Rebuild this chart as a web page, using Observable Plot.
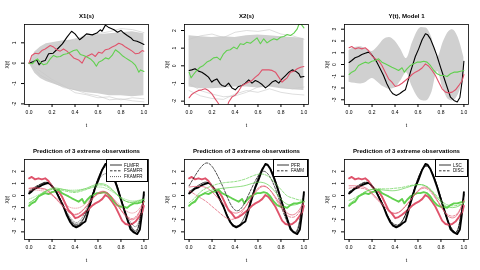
<!DOCTYPE html>
<html><head><meta charset="utf-8">
<script src="https://cdn.jsdelivr.net/npm/d3@7"></script>
<script src="https://cdn.jsdelivr.net/npm/@observablehq/plot@0.6"></script>
<style>
body{margin:0;background:#fff;}
#wrap{position:relative;width:480px;height:270px;font-family:"Liberation Sans",Arial,sans-serif;overflow:hidden;}
.panel{position:absolute;width:160px;height:135px;will-change:transform;}
.panel svg{overflow:visible;}
.leg{position:absolute;will-change:transform;}
svg text{-webkit-font-smoothing:antialiased;}
</style></head><body><div id="wrap"></div>
<script>
// ---------- colours (R 4 palette) ----------
const BLACK = "#000000", RED = "#DF536B", GREEN = "#61D04F", GREY = "#d0d0d0";

// ---------- panel 1: X1(s) ----------
const x1BandT  = [0,0.05,0.1,0.15,0.2,0.3,0.4,0.5,0.6,0.7,0.8,0.9,1];
const x1BandHi = [0,0.55,0.8,0.95,1.0,1.1,1.15,1.3,1.4,1.45,1.5,1.55,1.45];
const x1BandLo = [0,-0.5,-0.75,-0.9,-1.0,-1.2,-1.35,-1.45,-1.5,-1.6,-1.6,-1.65,-1.6];
const greyT = [0,0.1,0.2,0.3,0.4,0.5,0.6,0.7,0.8,0.9,1];
const x1Grey1 = [0,-0.6,-0.9,-1.2,-1.3,-1.5,-1.6,-1.8,-1.75,-1.85,-1.9];
const x1Grey2 = [0,0.5,0.8,1.0,1.2,1.35,1.45,1.55,1.7,1.65,1.5];
const x1Grey3 = [0,-0.4,-0.8,-1.1,-1.45,-1.55,-1.7,-1.65,-1.8,-1.7,-1.75];
const x1BlackT = [0,0.038,0.067,0.087,0.11,0.14,0.17,0.21,0.24,0.29,0.33,0.37,0.4,0.44,0.475,0.5,0.55,0.59,0.62,0.635,0.665,0.69,0.74,0.77,0.8,0.825,0.855,0.885,0.91,0.94,0.97,1];
const x1BlackY = [0,0.08,0.16,-0.08,0.08,0.13,0.46,0.49,0.66,0.95,1.28,1.57,1.44,1.15,1.31,1.44,1.39,1.48,1.64,1.57,1.87,1.77,1.64,1.52,1.61,1.48,1.36,1.25,1.11,1.08,1.0,0.92];
const x1RedT = [0,0.023,0.052,0.082,0.111,0.14,0.184,0.213,0.242,0.271,0.3,0.329,0.359,0.388,0.431,0.461,0.49,0.519,0.548,0.577,0.606,0.636,0.665,0.694,0.723,0.752,0.781,0.81,0.84,0.869,0.898,0.927,0.956,0.985,1];
const x1RedY = [0,0.38,0.49,0.46,0.62,0.70,0.87,0.79,0.66,0.59,0.70,0.59,0.43,0.26,0.16,0,0.30,0.38,0.46,0.33,0.54,0.49,0.66,0.70,0.79,0.87,0.98,0.92,0.79,0.70,0.59,0.46,0.49,0.62,0.59];
const x1GreenT = [0,0.029,0.052,0.073,0.096,0.125,0.155,0.184,0.213,0.242,0.271,0.3,0.329,0.359,0.388,0.417,0.446,0.475,0.504,0.534,0.563,0.586,0.606,0.636,0.665,0.694,0.723,0.752,0.781,0.81,0.84,0.869,0.898,0.927,0.942,0.956,0.971,1];
const x1GreenY = [0,-0.03,0.13,0.21,0.05,-0.08,-0.03,0.21,0.38,0.30,0.33,0.43,0.46,0.54,0.62,0.66,0.43,0.38,0.30,0.21,0.05,-0.15,0.05,0.13,0.26,0.21,0.38,0.66,0.54,0.38,0.26,0.16,0.05,-0.11,-0.28,-0.44,-0.33,-0.41];

// ---------- panel 2: X2(s) ----------
const x2BandHi = [1.7,1.65,1.6,1.65,1.6,1.7,1.75,1.7,1.65,1.6,1.55];
const x2BandLo = [-1.2,-1.3,-1.3,-1.25,-1.2,-1.2,-1.25,-1.2,-1.3,-1.35,-1.4];
const x2Grey1 = [-1.4,-1.7,-1.85,-1.9,-1.6,-1.4,-1.5,-1.3,-1.5,-1.6,-1.65];
const x2Grey2 = [1.5,1.7,1.8,1.6,1.9,2.0,1.95,2.05,1.8,1.7,1.5];
const x2Grey3 = [-1.0,-1.4,-1.6,-1.75,-1.7,-1.5,-1.2,-1.1,-1.2,-1.3,-1.2];
const x2GreenT = [0,0.017,0.038,0.067,0.096,0.125,0.155,0.184,0.213,0.242,0.271,0.3,0.329,0.359,0.388,0.417,0.446,0.475,0.504,0.534,0.563,0.592,0.621,0.65,0.679,0.708,0.738,0.767,0.796,0.825,0.854,0.883,0.913,0.942,0.956,0.971,1];
const x2GreenY = [-0.36,-0.68,-0.49,-0.26,-0.08,0.02,0.21,0.30,0.45,0.49,0.34,0.68,0.87,0.91,1.06,0.96,1.25,1.21,1.34,1.28,1.43,1.58,1.25,1.53,1.30,1.43,1.53,1.47,1.62,1.66,1.77,1.72,1.85,2.09,2.34,2.4,2.15];
const x2BlackT = [0,0.023,0.052,0.082,0.111,0.14,0.169,0.184,0.198,0.213,0.242,0.271,0.286,0.315,0.344,0.373,0.402,0.431,0.461,0.49,0.519,0.548,0.577,0.606,0.636,0.665,0.694,0.723,0.752,0.781,0.81,0.84,0.869,0.898,0.927,0.956,0.971,1];
const x2BlackY = [-0.26,-0.23,-0.17,-0.30,-0.36,-0.49,-0.64,-0.79,-0.92,-0.83,-0.74,-1.02,-1.11,-1.17,-0.98,-1.25,-1.36,-1.17,-1.11,-0.98,-0.79,-0.98,-0.83,-0.92,-1.06,-1.25,-1.11,-0.92,-0.83,-0.98,-0.74,-0.55,-0.36,-0.23,-0.30,-0.45,-0.64,-0.6];
const x2RedT = [0,0.023,0.052,0.082,0.111,0.14,0.169,0.198,0.227,0.248,0.271,0.3,0.329,0.344,0.373,0.402,0.431,0.461,0.49,0.519,0.548,0.577,0.606,0.636,0.665,0.694,0.723,0.752,0.781,0.81,0.825,0.854,0.883,0.913,0.942,0.971,1];
const x2RedY = [-1.81,-1.62,-1.49,-1.40,-1.36,-1.30,-1.40,-1.58,-1.87,-2.06,-2.3,-2.6,-2.45,-2.06,-1.77,-1.66,-1.43,-1.11,-1.02,-0.92,-0.83,-0.64,-0.49,-0.23,-0.23,-0.23,-0.26,-0.36,-0.64,-0.92,-0.83,-0.68,-0.36,-0.30,-0.17,-0.08,-0.04];

// ---------- panel 3: Y(t), Model 1 ----------
const yBandT  = [0,0.05,0.1,0.15,0.2,0.25,0.3,0.35,0.4,0.45,0.5,0.55,0.6,0.63,0.67,0.72,0.77,0.82,0.87,0.9,0.95,1];
const yBandHi = [1.2,1.45,1.5,1.3,1.1,1.5,2.1,2.3,2.0,1.3,0.5,1.8,2.9,3.15,3.1,2.3,0.6,1.9,2.8,2.95,2.3,0.6];
const yBandLo = [-1.5,-1.6,-1.65,-1.5,-1.2,-1.5,-1.9,-2.1,-2.0,-1.4,-0.7,-1.9,-2.8,-3.05,-3.1,-2.4,-0.6,-2.1,-3.0,-3.1,-2.6,-0.8];
const yBlackT = [0,0.023,0.052,0.082,0.111,0.14,0.169,0.184,0.213,0.242,0.271,0.3,0.329,0.359,0.382,0.411,0.44,0.469,0.49,0.51,0.534,0.557,0.577,0.606,0.636,0.665,0.685,0.708,0.738,0.767,0.796,0.825,0.854,0.883,0.913,0.942,0.965,0.985,1];
const yBlackY = [0.17,0.34,0.57,0.68,0.85,0.96,1.05,0.96,0.62,0.2,-0.37,-0.93,-1.64,-2.21,-2.49,-2.63,-2.49,-2.27,-2.15,-1.5,-0.65,0.06,0.68,1.33,2.1,2.61,2.52,2.18,1.47,0.68,-0.23,-1.08,-1.93,-2.78,-3.05,-3.18,-2.8,-1.36,0.28];
const yRedT = [0,0.023,0.052,0.082,0.111,0.14,0.169,0.198,0.227,0.257,0.286,0.315,0.344,0.373,0.402,0.431,0.461,0.49,0.519,0.548,0.577,0.606,0.636,0.665,0.694,0.723,0.752,0.781,0.81,0.84,0.869,0.898,0.927,0.956,0.985,1];
const yRedY = [1.42,1.53,1.33,1.42,1.33,1.42,1.19,0.76,0.48,0.34,-0.08,-0.65,-1.22,-1.5,-1.87,-1.78,-1.59,-1.36,-1.13,-0.85,-0.65,-0.51,-0.3,0.05,-0.15,-0.51,-0.93,-1.5,-2.07,-2.35,-2.41,-2.35,-2.15,-1.78,-1.36,-0.85];
const yGreenT = [0,0.023,0.052,0.082,0.111,0.14,0.169,0.198,0.227,0.257,0.286,0.315,0.344,0.373,0.402,0.431,0.461,0.481,0.504,0.534,0.563,0.592,0.621,0.65,0.679,0.708,0.738,0.767,0.796,0.825,0.854,0.883,0.913,0.942,0.971,1];
const yGreenY = [-0.85,-0.65,-0.51,-0.08,0.06,0.2,0.11,0.28,0.34,0.48,0.2,0.06,-0.08,-0.23,-0.37,-0.51,-0.28,-0.65,-0.37,-0.08,0.06,0.2,0.2,0.28,0.2,-0.08,-0.51,-0.79,-0.93,-0.93,-1.02,-0.79,-0.65,-0.65,-0.57,-0.51];

// ---------- predictions (bottom row) ----------
const tP = [0,0.05,0.1,0.15,0.2,0.25,0.3,0.35,0.4,0.45,0.5,0.55,0.6,0.65,0.7,0.75,0.8,0.85,0.9,0.95,1];
// FLMFR / FSAMFR / FKAMFR
const flmBlack = [0.25,0.6,0.9,1.05,0.75,0.1,-0.9,-1.9,-2.45,-2.3,-1.4,0.0,1.4,2.35,2.3,1.3,-0.2,-1.8,-2.8,-2.7,0.1];
const fsaBlack = [0.35,0.7,0.95,1.1,0.8,0.1,-0.9,-1.85,-2.35,-2.2,-1.35,0.0,1.35,2.25,2.2,1.2,-0.25,-1.8,-2.7,-2.6,0.1];
const fkaBlack = [0.3,0.65,0.9,1.0,0.7,0.0,-0.9,-1.7,-2.2,-2.0,-1.1,0.1,1.2,1.75,1.7,1.0,-0.3,-1.6,-2.4,-2.3,0.0];
const flmRed = [0.6,0.65,0.6,0.5,0.1,-0.4,-0.9,-1.4,-1.6,-1.4,-0.9,-0.3,0.2,0.35,0.1,-0.5,-1.2,-1.8,-2.0,-1.6,-0.5];
const fsaRed = [0.55,0.6,0.55,0.45,0.05,-0.45,-0.95,-1.4,-1.55,-1.35,-0.85,-0.3,0.15,0.3,0.05,-0.55,-1.2,-1.7,-1.9,-1.5,-0.5];
const fkaRed = [0.4,0.45,0.4,0.3,0.0,-0.3,-0.65,-0.95,-1.05,-0.95,-0.6,-0.2,0.1,0.2,0.0,-0.4,-0.9,-1.3,-1.45,-1.2,-0.5];
const flmGreen = [-0.65,-0.3,0.1,0.4,0.6,0.6,0.5,0.4,0.35,0.45,0.6,0.8,0.95,0.95,0.7,0.25,-0.2,-0.5,-0.55,-0.45,-0.3];
const fsaGreen = [-0.6,-0.3,0.05,0.35,0.5,0.5,0.4,0.3,0.25,0.35,0.5,0.7,0.85,0.85,0.6,0.2,-0.25,-0.5,-0.6,-0.5,-0.35];
const fkaGreen = [-0.3,-0.1,0.15,0.35,0.5,0.55,0.5,0.45,0.45,0.5,0.55,0.65,0.7,0.65,0.45,0.15,-0.15,-0.35,-0.45,-0.4,-0.3];
// PFR / FAMM
const pfrBlack = [0.3,0.65,0.95,1.1,0.8,0.1,-0.95,-1.95,-2.5,-2.3,-1.4,0.0,1.45,2.4,2.35,1.3,-0.2,-1.8,-2.85,-2.75,0.1];
const fammBlack = [0.8,1.6,2.3,2.68,2.4,1.6,0.6,-0.5,-1.2,-1.1,-0.3,0.7,1.6,2.0,1.6,0.6,-0.8,-2.1,-2.9,-2.6,0.3];
const pfrRed = [0.7,0.75,0.75,0.65,0.3,-0.2,-0.7,-1.2,-1.45,-1.3,-0.8,-0.1,0.5,0.75,0.5,-0.1,-0.8,-1.4,-1.6,-1.3,-0.5];
const fammRed = [0.4,0.1,-0.2,-0.5,-0.9,-1.3,-1.7,-1.95,-1.9,-1.5,-0.8,0.0,0.6,0.8,0.5,-0.2,-1.0,-1.6,-1.8,-1.5,-0.6];
const pfrGreen = [-0.8,-0.4,0.0,0.3,0.45,0.55,0.6,0.65,0.7,0.75,0.85,1.0,1.1,1.05,0.8,0.3,-0.3,-0.7,-0.8,-0.7,-0.5];
const fammGreen = [-0.6,-0.2,0.3,0.6,0.8,0.95,1.05,1.1,1.15,1.25,1.4,1.6,1.75,1.75,1.5,1.0,0.5,0.0,-0.2,-0.35,-0.4];
// LSC / DISC
const lscBlack = [0.25,0.6,0.9,1.05,0.75,0.1,-0.9,-1.95,-2.5,-2.3,-1.4,0.0,1.4,2.35,2.3,1.3,-0.2,-1.8,-2.85,-2.75,0.1];
const discBlack = [0.3,0.65,0.95,1.1,0.8,0.1,-0.9,-1.9,-2.4,-2.25,-1.35,0.05,1.4,2.3,2.25,1.25,-0.25,-1.85,-2.8,-2.7,0.1];
const lscRed = [0.8,0.8,0.75,0.6,0.2,-0.3,-0.8,-1.3,-1.5,-1.3,-0.8,-0.2,0.4,0.7,0.5,-0.1,-0.9,-1.6,-1.85,-1.5,-0.4];
const discRed = [0.6,0.65,0.6,0.5,0.1,-0.4,-0.85,-1.3,-1.45,-1.25,-0.75,-0.2,0.35,0.6,0.4,-0.2,-0.9,-1.5,-1.7,-1.4,-0.4];
const lscGreen = [-0.7,-0.35,0.05,0.35,0.5,0.5,0.45,0.4,0.4,0.5,0.65,0.8,0.9,0.85,0.55,0.0,-0.55,-0.9,-1.0,-0.9,-0.6];
const discGreen = [-0.4,-0.2,0.1,0.35,0.5,0.55,0.55,0.55,0.6,0.65,0.75,0.85,0.9,0.85,0.6,0.1,-0.4,-0.75,-0.85,-0.8,-0.6];

const xTicks = [0,0.2,0.4,0.6,0.8,1];
const FONT = '"Liberation Sans", Arial, Helvetica, sans-serif';

// ---------- helpers ----------
const rows = (T, Y) => T.map((t, i) => ({t, y: Y[i]}));
const band = (T, lo, hi) => T.map((t, i) => ({t, lo: lo[i], hi: hi[i]}));
const line = (T, Y, stroke, w, extra = {}) =>
  Plot.line(rows(T, Y), {x: "t", y: "y", stroke, strokeWidth: w, clip: true, ...extra});

function panel(col, row, title, yDomain, yTicks, marks) {
  const el = Plot.plot({
    width: 160, height: 135,
    marginLeft: 24, marginRight: 12, marginTop: 24, marginBottom: 31,
    style: {fontFamily: FONT, fontSize: "5px", background: "#fff", color: "#000"},
    x: {domain: [-0.04, 1.04]},
    y: {domain: yDomain},
    marks: [
      ...marks,
      Plot.frame({stroke: "#000", strokeWidth: 0.8}),
      Plot.axisX({ticks: xTicks, tickFormat: d => d.toFixed(1), tickSize: 3, tickPadding: 3,
        label: "t", labelAnchor: "center", labelArrow: "none", labelOffset: 22, fontSize: 5, fill: "#000", stroke: "#000"}),
      Plot.axisY({ticks: yTicks, tickFormat: d => String(d), tickSize: 3, tickPadding: 6, tickRotate: -90,
        label: "X(t)", labelAnchor: "center", labelArrow: "none", labelOffset: 19, fontSize: 5, fill: "#000", stroke: "#000"}),
      Plot.text([title], {text: d => d, frameAnchor: "top", dy: -11, fontWeight: "bold", fontSize: 6.1, fill: "#000"})
    ]
  });
  const div = document.createElement("div");
  div.className = "panel";
  div.style.left = (col * 160) + "px";
  div.style.top = (row * 135) + "px";
  div.appendChild(el);
  document.getElementById("wrap").appendChild(div);
}

// legend (decoration drawn as plain SVG)
function legend(left, top, w, h, items) {
  const svg = d3.create("svg").attr("class", "leg").attr("width", w).attr("height", h)
    .style("left", left + "px").style("top", top + "px");
  svg.append("rect").attr("x", 0.5).attr("y", 0.5).attr("width", w - 1).attr("height", h - 1)
    .attr("fill", "#fff").attr("stroke", "#000").attr("stroke-width", 1);
  items.forEach((it, i) => {
    const y = 6 + i * 5.8;
    svg.append("line").attr("x1", 4).attr("x2", 16).attr("y1", y).attr("y2", y)
      .attr("stroke", "#000").attr("stroke-width", 0.8).attr("stroke-dasharray", it.dash || null);
    svg.append("text").attr("x", 18).attr("y", y).attr("dy", "0.35em").attr("fill", "#000")
      .attr("font-family", FONT).attr("font-size", 4.5).text(it.label);
  });
  document.getElementById("wrap").appendChild(svg.node());
}

// ---------- top row ----------
const greyLine = (T, Y) => line(T, Y, "#c8c8c8", 0.6);
panel(0, 0, "X1(s)", [-2.03, 1.9], [-2, -1, 0, 1], [
  Plot.areaY(band(x1BandT, x1BandLo, x1BandHi), {x: "t", y1: "lo", y2: "hi", fill: GREY, clip: true}),
  greyLine(greyT, x1Grey1), greyLine(greyT, x1Grey2), greyLine(greyT, x1Grey3),
  line(x1BlackT, x1BlackY, BLACK, 1.1),
  line(x1RedT, x1RedY, RED, 1.1),
  line(x1GreenT, x1GreenY, GREEN, 1.1)
]);
panel(1, 0, "X2(s)", [-2.19, 2.34], [-2, -1, 0, 1, 2], [
  Plot.areaY(band(greyT, x2BandLo, x2BandHi), {x: "t", y1: "lo", y2: "hi", fill: GREY, clip: true}),
  greyLine(greyT, x2Grey1), greyLine(greyT, x2Grey2), greyLine(greyT, x2Grey3),
  line(x2BlackT, x2BlackY, BLACK, 1.1),
  line(x2RedT, x2RedY, RED, 1.1),
  line(x2GreenT, x2GreenY, GREEN, 1.1)
]);
panel(2, 0, "Y(t), Model 1", [-3.4, 3.4], [-3, -2, -1, 0, 1, 2, 3], [
  Plot.areaY(band(yBandT, yBandLo, yBandHi), {x: "t", y1: "lo", y2: "hi", fill: GREY, curve: "monotone-x", clip: true}),
  line(yBlackT, yBlackY, BLACK, 1.1),
  line(yRedT, yRedY, RED, 1.1),
  line(yGreenT, yGreenY, GREEN, 1.1)
]);

// ---------- bottom row ----------
const obsMarks = () => [
  line(yBlackT, yBlackY, BLACK, 1.9),
  line(yRedT, yRedY, RED, 1.9),
  line(yGreenT, yGreenY, GREEN, 1.9)
];
const pred = (Y, color, dash, op = 1) => line(tP, Y, color, 0.7, {curve: "natural", strokeDasharray: dash, strokeOpacity: op});
const bDom = [-3.63, 2.97], bTicks = [-3, -2, -1, 0, 1, 2];
const T3 = "Prediction of 3 extreme observations";
const DASH = "2.5,1.5", DOT = "0.8,1.2";

panel(0, 1, T3, bDom, bTicks, [
  ...obsMarks(),
  pred(flmBlack, BLACK), pred(fsaBlack, BLACK, DASH), pred(fkaBlack, BLACK, DOT, 0.6),
  pred(flmRed, RED), pred(fsaRed, RED, DASH), pred(fkaRed, RED, DOT, 0.7),
  pred(flmGreen, GREEN), pred(fsaGreen, GREEN, DASH), pred(fkaGreen, GREEN, DOT, 0.7)
]);
panel(1, 1, T3, bDom, bTicks, [
  ...obsMarks(),
  pred(pfrBlack, BLACK), pred(fammBlack, BLACK, DASH),
  pred(pfrRed, RED), pred(fammRed, RED, DASH),
  pred(pfrGreen, GREEN), pred(fammGreen, GREEN, DASH)
]);
panel(2, 1, T3, bDom, bTicks, [
  ...obsMarks(),
  pred(lscBlack, BLACK), pred(discBlack, BLACK, DASH),
  pred(lscRed, RED), pred(discRed, RED, DASH),
  pred(lscGreen, GREEN), pred(discGreen, GREEN, DASH)
]);

legend(106, 159, 42, 23, [{label: "FLMFR"}, {label: "FSAMFR", dash: DASH}, {label: "FKAMFR", dash: DOT}]);
legend(273, 159, 35, 18, [{label: "PFR"}, {label: "FAMM", dash: DASH}]);
legend(435, 159, 33, 18, [{label: "LSC"}, {label: "DISC", dash: DASH}]);
</script></body></html>
